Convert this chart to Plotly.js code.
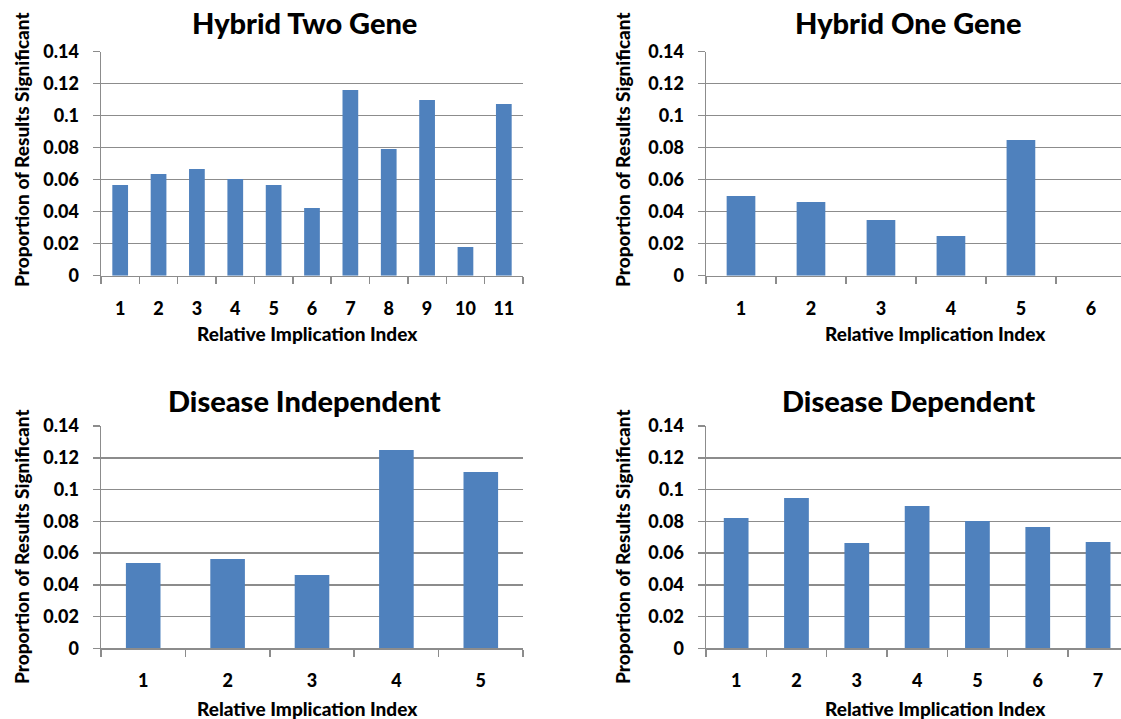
<!DOCTYPE html>
<html>
<head>
<meta charset="utf-8">
<script src="https://cdn.plot.ly/plotly-3.0.1.min.js"></script>
<style>
  html, body { margin: 0; padding: 0; background: #ffffff; }
  #chart { width: 1121px; height: 719px; }
</style>
</head>
<body>
<div id="chart"></div>
<script>
// Proportion of significant results by relative implication index
const panelTitles = ['Hybrid Two Gene', 'Hybrid One Gene', 'Disease Independent', 'Disease Dependent'];
const xAxisLabel = 'Relative Implication Index';
const yAxisLabel = 'Proportion of Results Significant';

const hybridTwoIndex = ['1', '2', '3', '4', '5', '6', '7', '8', '9', '10', '11'];
const hybridTwoValues = [0.0566, 0.0635, 0.0666, 0.0604, 0.0566, 0.0423, 0.1160, 0.0791, 0.1097, 0.0179, 0.1072];

const hybridOneIndex = ['1', '2', '3', '4', '5', '6'];
const hybridOneValues = [0.0498, 0.0460, 0.0348, 0.0248, 0.0847, 0];

const diseaseIndepIndex = ['1', '2', '3', '4', '5'];
const diseaseIndepValues = [0.0537, 0.0562, 0.0462, 0.1249, 0.1110];

const diseaseDepIndex = ['1', '2', '3', '4', '5', '6', '7'];
const diseaseDepValues = [0.0821, 0.0947, 0.0663, 0.0896, 0.0802, 0.0764, 0.0670];

const W = 1121, H = 719;
const FONT = 'Lato, "Liberation Sans", Arial, sans-serif';
const BAR = '#4f81bd';
const GRID = '#8c8c8c';

const px = v => v / W;
const py = v => 1 - v / H;

function bars(x, y, xa, ya) {
  return {
    type: 'bar', x: x, y: y, xaxis: xa, yaxis: ya,
    marker: { color: BAR, line: { width: 0 } },
    hoverinfo: 'x+y', showlegend: false
  };
}

function xAxis(left, right, range, anchor) {
  return {
    type: 'category', domain: [px(left), right], range: range, anchor: anchor,
    showline: true, linecolor: GRID, linewidth: 1.5,
    ticks: 'outside', tickson: 'boundaries', ticklen: 7, tickwidth: 1.5, tickcolor: GRID,
    ticklabelstandoff: 16,
    showgrid: false, zeroline: false, fixedrange: true,
    tickfont: { family: FONT, size: 18, color: '#000', weight: 900 }
  };
}

function yAxis(top, bottom, anchor) {
  return {
    domain: [py(bottom), py(top)], range: [0, 0.14], dtick: 0.02, tick0: 0, anchor: anchor,
    showline: true, linecolor: GRID, linewidth: 1.5,
    ticks: 'outside', ticklen: 7, tickwidth: 1.5, tickcolor: GRID,
    ticklabelstandoff: 10,
    showgrid: true, gridcolor: GRID, gridwidth: 1.5, zeroline: false, fixedrange: true,
    tickfont: { family: FONT, size: 18, color: '#000', weight: 900 }
  };
}

const data = [
  bars(hybridTwoIndex, hybridTwoValues, 'x', 'y'),
  bars(hybridOneIndex, hybridOneValues, 'x2', 'y2'),
  bars(diseaseIndepIndex, diseaseIndepValues, 'x3', 'y3'),
  bars(diseaseDepIndex, diseaseDepValues, 'x4', 'y4')
];

function note(text, x, y, size, angle) {
  return {
    text: text, xref: 'paper', yref: 'paper', x: x, y: y,
    xanchor: 'center', yanchor: 'middle', showarrow: false, textangle: angle || 0,
    font: { family: FONT, size: size, color: '#000', weight: 900 }
  };
}

const annotations = [
  note(panelTitles[0], px(304), py(22), 29),
  note(panelTitles[1], px(908), py(22), 29),
  note(panelTitles[2], px(304), py(400), 29),
  note(panelTitles[3], px(908), py(400), 29),
  note(xAxisLabel, px(307), py(333), 19),
  note(xAxisLabel, px(935), py(333), 19),
  note(xAxisLabel, px(307), py(708), 19),
  note(xAxisLabel, px(935), py(708), 19),
  note(yAxisLabel, px(21), py(150), 19, -90),
  note(yAxisLabel, px(622), py(150), 19, -90),
  note(yAxisLabel, px(21), py(547), 19, -90),
  note(yAxisLabel, px(622), py(547), 19, -90)
];

const layout = {
  width: W, height: H,
  margin: { l: 0, r: 0, t: 0, b: 0, pad: 0 },
  paper_bgcolor: '#ffffff', plot_bgcolor: '#ffffff',
  bargap: 0.59,
  font: { family: FONT, color: '#000' },
  xaxis: xAxis(101, px(523), [-0.5, 10.5], 'y'),
  yaxis: yAxis(51.5, 275.7, 'x'),
  xaxis2: xAxis(706, 1, [-0.5, 5.43], 'y2'),
  yaxis2: yAxis(51.5, 275.7, 'x2'),
  xaxis3: xAxis(101, px(523), [-0.5, 4.5], 'y3'),
  yaxis3: yAxis(426, 648.3, 'x3'),
  xaxis4: xAxis(706, 1, [-0.5, 6.38], 'y4'),
  yaxis4: yAxis(426, 648.3, 'x4'),
  annotations: annotations
};

Plotly.newPlot('chart', data, layout, { displayModeBar: false, staticPlot: true });
</script>
</body>
</html>
